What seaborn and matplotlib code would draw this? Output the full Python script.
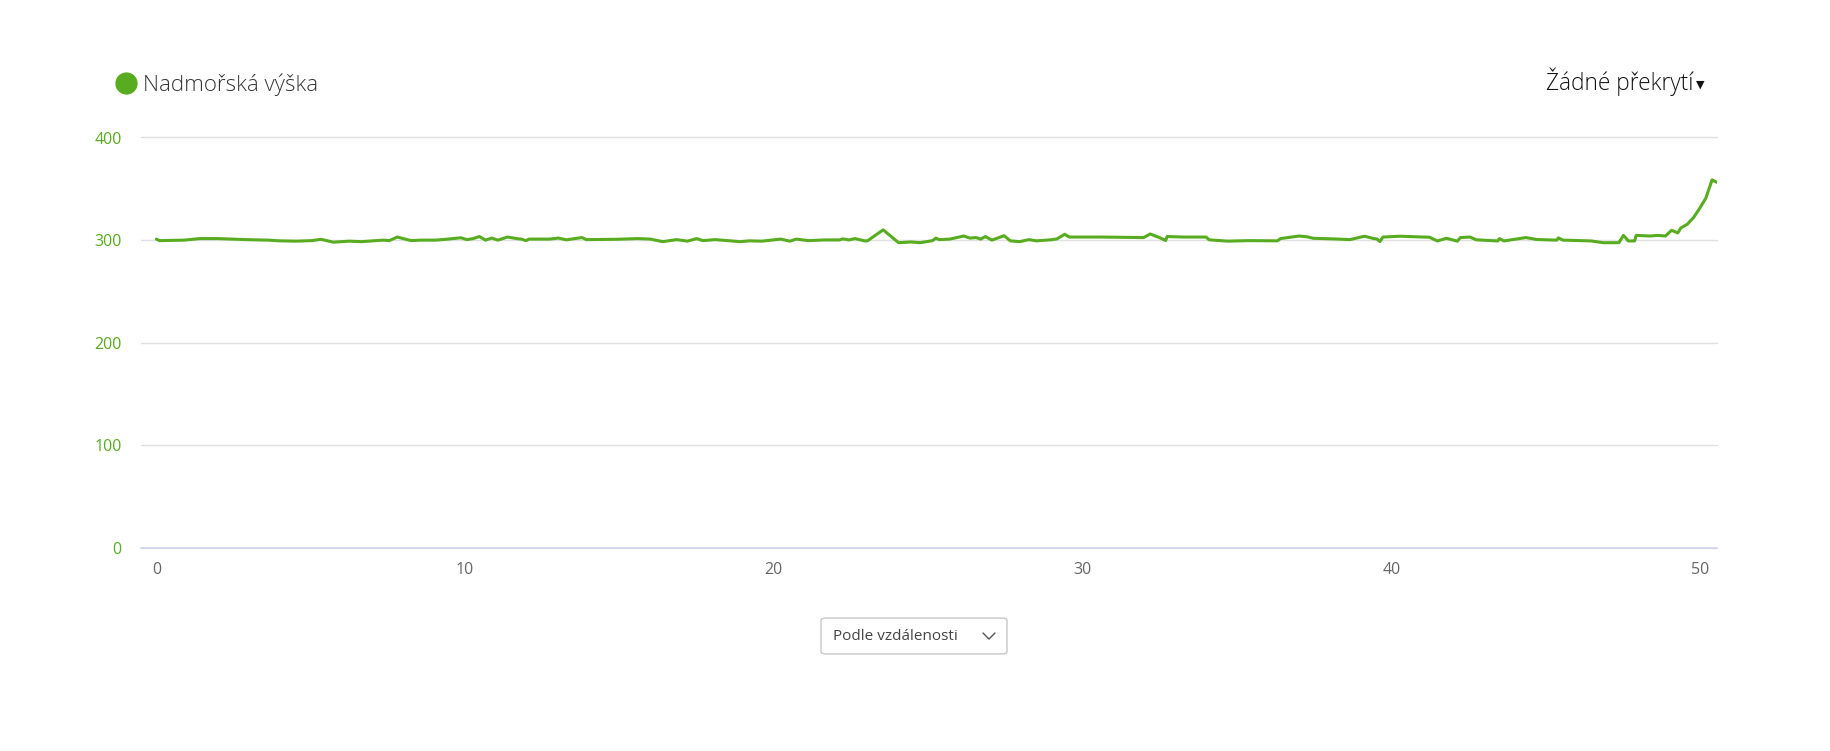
import matplotlib
matplotlib.use("Agg")
import matplotlib.pyplot as plt
import seaborn as sns
import pandas as pd
from matplotlib.patches import FancyBboxPatch
from matplotlib.lines import Line2D

# %% Datos (km, m n. m.)
vzdalenost = [0.0, 0.1, 0.5, 0.9, 1.4, 2.0, 2.9, 3.6, 4.0, 4.5, 5.03, 5.33, 5.73, 6.24, 6.64,
              7.34, 7.54, 7.8, 8.25, 8.55, 9.05, 9.45, 9.86, 10.06, 10.26, 10.46, 10.66,
              10.86, 11.06, 11.37, 11.67, 11.82, 11.97, 12.07, 12.74, 13.02, 13.28, 13.78,
              13.93, 14.89, 15.59, 16.0, 16.4, 16.85, 17.2, 17.5, 17.7, 18.1, 18.51, 18.91,
              19.21, 19.61, 20.22, 20.52, 20.72, 21.12, 21.62, 22.13, 22.23, 22.43, 22.63,
              22.93, 23.03, 23.54, 24.04, 24.44, 24.74, 25.14, 25.25, 25.35, 25.7, 26.15,
              26.35, 26.55, 26.7, 26.85, 27.06, 27.46, 27.66, 27.96, 28.26, 28.51, 28.97,
              29.17, 29.42, 29.57, 30.58, 31.98, 32.19, 32.49, 32.69, 32.74, 33.29, 34.0,
              34.1, 34.7, 35.4, 36.31, 36.41, 37.01, 37.26, 37.47, 38.12, 38.66, 39.13,
              39.43, 39.53, 39.63, 39.73, 40.28, 41.24, 41.49, 41.79, 42.14, 42.24, 42.55,
              42.75, 43.45, 43.5, 43.65, 44.36, 44.71, 45.36, 45.41, 45.56, 46.47, 46.87,
              47.37, 47.52, 47.68, 47.88, 47.93, 48.38, 48.63, 48.88, 49.08, 49.28, 49.38,
              49.59, 49.79, 49.99, 50.19, 50.39, 50.54]
vyska = [301, 299.5, 299.8, 300, 301.5, 301.5, 300.5, 300, 299.3, 299, 299.5, 300.8, 298,
         299, 298.5, 300, 299.5, 303, 299.5, 300, 300, 301, 302.3, 300.5, 301.5, 303.5,
         300, 302, 300, 303, 301.5, 301, 299.5, 301, 301, 302, 300.3, 302.5, 300.5, 300.8,
         301.5, 301, 298.5, 300.5, 299, 301.5, 299.5, 300.5, 299.5, 298.5, 299.3, 299,
         301, 299, 301, 299.5, 300.2, 300.2, 301.2, 300.2, 301.5, 299.3, 299.3, 310,
         297.5, 298.2, 297.5, 299.5, 302, 300.5, 301, 304, 302, 302.5, 301, 303.5, 300,
         304.3, 299.3, 298.5, 300.5, 299.3, 300.3, 301.2, 305.7, 303, 303, 302.5, 306,
         302.5, 299.6, 303.5, 303, 303, 300.3, 299, 299.5, 299.3, 301.5, 304, 303.3,
         301.8, 301.2, 300.5, 303.8, 301.5, 301.2, 298.6, 303, 303.8, 302.8, 299.2,
         301.8, 299, 302.5, 303, 300.3, 299.2, 301.5, 299.2, 302.5, 300.6, 300, 302.2,
         300, 299.2, 297.5, 297.5, 304.6, 299.2, 299.2, 304.6, 304, 304.6, 304, 309.6,
         307, 311.9, 315.5, 322, 331, 341, 358.7, 356.4]

y_ticks = [0, 100, 200, 300, 400]
x_ticks = [0, 10, 20, 30, 40, 50]

zelena = "#58ac1f"

df = pd.DataFrame({"km": vzdalenost, "vyska": vyska})

# %% Grafico
sns.set_style("white")
plt.rcParams["font.family"] = ["Open Sans", "DejaVu Sans"]

fig = plt.figure(figsize=(18.31, 7.51), dpi=100)
ax = fig.add_axes([141 / 1831, 1 - 548 / 751, (1717 - 141) / 1831, (548 - 137.5) / 751])

sns.lineplot(data=df, x="km", y="vyska", ax=ax, color=zelena, linewidth=2.2)

ax.set_xlim(-0.5, 50.55)
ax.set_ylim(0, 400)
ax.set_yticks(y_ticks)
ax.set_xticks(x_ticks)
ax.set_xlabel("")
ax.set_ylabel("")
ax.grid(axis="y", color="#e0e0e0", linewidth=1.0)
for g in ax.yaxis.get_gridlines():
    g.set_clip_on(False)
ax.set_axisbelow(True)
for s in ["top", "right", "left"]:
    ax.spines[s].set_visible(False)
ax.spines["bottom"].set_color("#ccd6eb")
ax.spines["bottom"].set_linewidth(1.2)
ax.tick_params(axis="y", length=0, pad=14, labelsize=11.5, labelcolor=zelena)
ax.tick_params(axis="x", length=0, pad=10, labelsize=11.5, labelcolor="#666666")

# legenda
fig.add_artist(Line2D([126 / 1831], [1 - 83 / 751], marker="o", markersize=15,
                      color=zelena, linestyle="none", transform=fig.transFigure))
fig.text(143 / 1831, 1 - 85 / 751, "Nadmořská výška", fontsize=16, color="#333333",
         fontweight="light", va="center", ha="left")

fig.text(1693 / 1831, 1 - 82 / 751, "Žádné překrytí", fontsize=16.3, color="#111111",
         fontweight="light", va="center", ha="right")
fig.text(1700 / 1831, 1 - 85 / 751, "▼", fontsize=8, color="#111111",
         family="DejaVu Sans", va="center", ha="center")

# selector
box = FancyBboxPatch((821 / 1831, 1 - 654 / 751), (1007 - 821) / 1831, (654 - 618) / 751,
                     boxstyle="round,pad=0,rounding_size=0.003", transform=fig.transFigure,
                     facecolor="white", edgecolor="#c8c8c8", linewidth=1.0)
fig.patches.append(box)
fig.text(833 / 1831, 1 - 636 / 751, "Podle vzdálenosti", fontsize=11, color="#444444",
         va="center", ha="left")
fig.add_artist(Line2D([983 / 1831, 989 / 1831, 995 / 1831],
                      [1 - 633 / 751, 1 - 639 / 751, 1 - 633 / 751],
                      color="#555555", linewidth=1.0, transform=fig.transFigure))

fig.savefig("out.png", dpi=100)
